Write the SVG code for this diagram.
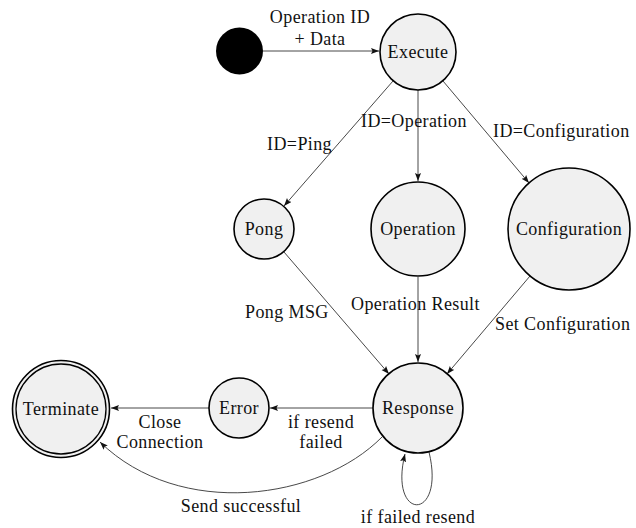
<svg xmlns="http://www.w3.org/2000/svg" width="636" height="528" viewBox="0 0 636 528">
  <style>
    .node { fill: #f0f0f0; stroke: #000; stroke-width: 1.6; }
    .edge { fill: none; stroke: #333; stroke-width: 0.9; marker-end: url(#arrow); }
    text { font-family: 'Liberation Serif', 'DejaVu Serif', serif; font-size: 18px; letter-spacing: 0.4px; fill: #111; }
    .c { text-anchor: middle; }
    .r { text-anchor: end; }
  </style>
  <defs>
    <marker id="arrow" markerUnits="userSpaceOnUse" markerWidth="9" markerHeight="7" refX="8" refY="3" orient="auto">
      <path d="M0,0 L8,3 L0,6 L1.5,3 z" fill="#111"/>
    </marker>
  </defs>

  <rect width="636" height="528" fill="#fff"/>

  <g id="connectors">
    <line class="edge" x1="263" y1="51" x2="379" y2="51"/>
    <line class="edge" x1="393" y1="81" x2="284" y2="206"/>
    <line class="edge" x1="418" y1="90" x2="418" y2="181"/>
    <line class="edge" x1="443" y1="81" x2="529" y2="183"/>
    <line class="edge" x1="284" y1="252" x2="389" y2="374"/>
    <line class="edge" x1="418" y1="277" x2="418" y2="362"/>
    <line class="edge" x1="530" y1="276" x2="447" y2="374"/>
    <line class="edge" x1="373" y1="408" x2="270" y2="408"/>
    <line class="edge" x1="209" y1="408" x2="111" y2="408"/>
    <path class="edge" d="M382,437 C320,500 180,520 100,442"/>
    <path class="edge" d="M429,452 C446,522 388,522 405,454"/>

    <g font-family="Liberation Serif, serif">
      <text class="c" x="320" y="23">Operation ID</text>
      <text class="c" x="320" y="45">+ Data</text>
      <text class="r" x="332" y="150">ID=Ping</text>
      <text x="361" y="127">ID=Operation</text>
      <text x="493" y="137">ID=Configuration</text>
      <text x="245" y="318">Pong MSG</text>
      <text x="351" y="310">Operation Result</text>
      <text x="495" y="330">Set Configuration</text>
      <text class="c" x="160" y="428">Close</text>
      <text class="c" x="160" y="448">Connection</text>
      <text class="c" x="321" y="428">if resend</text>
      <text class="c" x="321" y="448">failed</text>
      <text class="c" x="241" y="512">Send successful</text>
      <text class="c" x="418" y="523">if failed resend</text>
    </g>
  </g>

  <g id="start">
    <circle cx="239.5" cy="51" r="23.5" fill="#000"/>
  </g>
  <g id="execute">
    <circle class="node" cx="418" cy="52" r="38"/>
    <text class="c" x="418" y="58">Execute</text>
  </g>
  <g id="pong">
    <circle class="node" cx="264" cy="229" r="30"/>
    <text class="c" x="264" y="235">Pong</text>
  </g>
  <g id="operation">
    <circle class="node" cx="418" cy="229" r="47"/>
    <text class="c" x="418" y="235">Operation</text>
  </g>
  <g id="configuration">
    <circle class="node" cx="569" cy="229" r="61"/>
    <text class="c" x="569" y="235">Configuration</text>
  </g>
  <g id="response">
    <circle class="node" cx="418" cy="408" r="45"/>
    <text class="c" x="418" y="414">Response</text>
  </g>
  <g id="error">
    <circle class="node" cx="239" cy="408" r="30"/>
    <text class="c" x="239" y="414">Error</text>
  </g>
  <g id="terminate">
    <circle class="node" cx="61" cy="409" r="48.5" stroke-width="1.3"/>
    <circle cx="61" cy="409" r="45" fill="none" stroke="#000" stroke-width="1.3"/>
    <text class="c" x="61" y="415">Terminate</text>
  </g>
</svg>
